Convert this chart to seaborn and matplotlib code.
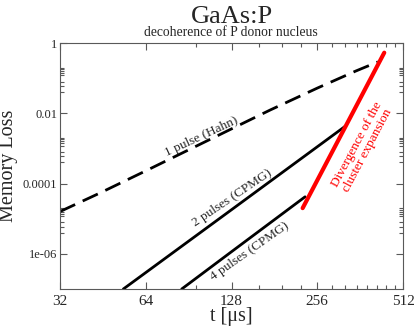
import matplotlib
matplotlib.use("Agg")
import pandas as pd
import matplotlib.pyplot as plt
import seaborn as sns
from matplotlib.ticker import FixedLocator, FixedFormatter, NullFormatter

# values, t in microseconds
hahn_t = [32, 44, 64, 90, 128, 175, 256, 350, 418]
hahn_loss = [1.6e-5, 5.3e-5, 2.3e-4, 8.9e-4, 3.6e-3, 1.24e-2, 5.2e-2, 0.16, 0.29]

cpmg2_t = [53.4, 128, 320]
cpmg2_loss = [1e-7, 1.8e-5, 4.2e-3]

cpmg4_t = [85.6, 128, 232]
cpmg4_loss = [1e-7, 1.15e-6, 4.2e-5]

diverge_t = [227.5, 440]
diverge_loss = [2.0e-5, 0.53]

x_ticks = [32, 64, 128, 256, 512]
x_labels = ["32", "64", "128", "256", "512"]
y_ticks = [1e-6, 1e-4, 1e-2, 1]
y_labels = ["1e-06", "0.0001", "0.01", "1"]

sns.set_style("ticks")
plt.rcParams["font.family"] = ["Liberation Serif", "DejaVu Serif"]

W, H = 415, 327
fig = plt.figure(figsize=(W / 100, H / 100), dpi=100)
ax = fig.add_axes([60 / W, 1 - 289 / H, 343 / W, 246 / H])

ax.set_xscale("log", base=2)
ax.set_yscale("log")

series = [
    (hahn_t, hahn_loss, "black", 2.0, (0, (6, 3))),
    (cpmg2_t, cpmg2_loss, "black", 2.0, "-"),
    (cpmg4_t, cpmg4_loss, "black", 2.0, "-"),
    (diverge_t, diverge_loss, "red", 3.0, "-"),
]
for t, loss, col, lw, ls in series:
    df = pd.DataFrame({"t": t, "loss": loss})
    sns.lineplot(data=df, x="t", y="loss", ax=ax, color=col, lw=lw,
                 linestyle=ls, errorbar=None)

ax.set_xlim(32, 512)
ax.set_ylim(1e-7, 1)

ax.xaxis.set_major_locator(FixedLocator(x_ticks))
ax.xaxis.set_major_formatter(FixedFormatter(x_labels))
ax.xaxis.set_minor_locator(FixedLocator([m for m in range(96, 512, 32) if m not in x_ticks]))
ax.xaxis.set_minor_formatter(NullFormatter())

y_minor = [base * k for base in (1e-6, 1e-4, 1e-2) for k in range(4, 21, 2) if k != 10]
ax.yaxis.set_major_locator(FixedLocator(y_ticks))
ax.yaxis.set_major_formatter(FixedFormatter(y_labels))
ax.yaxis.set_minor_locator(FixedLocator(y_minor))
ax.yaxis.set_minor_formatter(NullFormatter())

for s in ax.spines.values():
    s.set_visible(True)
    s.set_color("0.35")
    s.set_linewidth(0.8)

ax.tick_params(which="both", direction="in", top=True, right=True, color="0.35", width=0.8)
ax.tick_params(which="major", length=5)
ax.tick_params(which="minor", length=3)
ax.tick_params(axis="x", which="major", labelsize=11, pad=4)
ax.tick_params(axis="y", which="major", labelsize=9, pad=2)

ax.set_xlabel("t [μs]", fontsize=14.5)
ax.set_ylabel("Memory Loss", fontsize=14.5, va="center")
ax.xaxis.set_label_coords(0.5, -0.075)
ax.yaxis.set_label_coords(-0.149, 0.5)

fig.text(0.558, 1 - 23 / H, "GaAs:P", fontsize=19, ha="center", va="baseline")
fig.text(0.557, 1 - 36 / H, "decoherence of P donor nucleus", fontsize=9.8,
         ha="center", va="baseline")

lab = dict(transform=ax.transAxes, ha="center", va="center", rotation_mode="anchor", fontsize=9.5)
ax.text(0.413, 0.619, "1 pulse (Hahn)", rotation=25, **lab)
ax.text(0.503, 0.370, "2 pulses (CPMG)", rotation=34, **lab)
ax.text(0.554, 0.154, "4 pulses (CPMG)", rotation=35, **lab)
ax.text(0.88, 0.575, "Divergence of the\ncluster expansion", rotation=62,
        color="red", linespacing=0.95, **lab)

fig.savefig("out.png", dpi=100)
